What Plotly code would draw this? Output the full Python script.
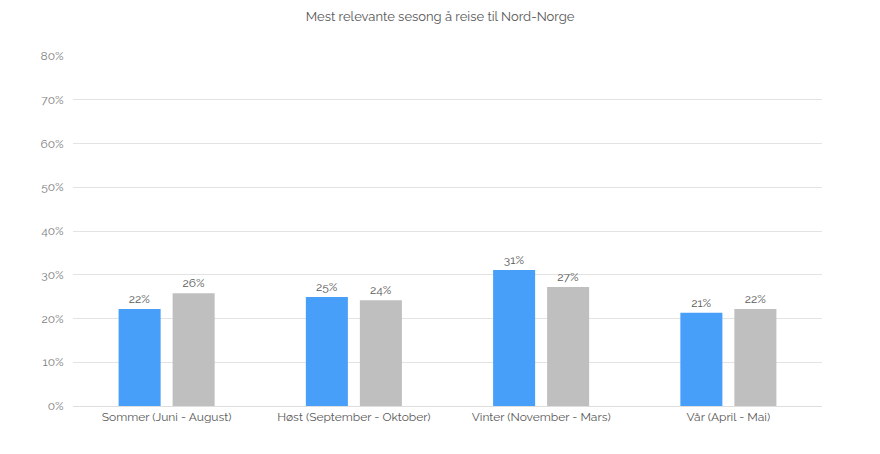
import plotly.graph_objects as go

categories = ["Sommer (Juni - August)", "Høst (September - Oktober)", "Vinter (November - Mars)", "Vår (April - Mai)"]
series_a = [22.2, 24.9, 31.1, 21.3]
series_b = [25.8, 24.2, 27.2, 22.2]
tick_vals = [0, 10, 20, 30, 40, 50, 60, 70, 80]
tick_text = ["0%", "10%", "20%", "30%", "40%", "50%", "60%", "70%", "80%"]

font_family = "Raleway, Lato, 'Open Sans', sans-serif"
text_color = "#666666"

fig = go.Figure()
fig.add_trace(go.Bar(x=categories, y=series_a, marker=dict(color="#479ffa", line=dict(width=0)),
                     text=[f"{v:.0f}%" for v in series_a], textposition="outside",
                     textfont=dict(color="#595959", size=12), cliponaxis=False, name="A"))
fig.add_trace(go.Bar(x=categories, y=series_b, marker=dict(color="#bfbfbf", line=dict(width=0)),
                     text=[f"{v:.0f}%" for v in series_b], textposition="outside",
                     textfont=dict(color="#595959", size=12), cliponaxis=False, name="B"))

# page body has an 8px margin, so the figure is shrunk by 8px
fig.update_layout(
    width=872, height=446,
    margin=dict(l=65, r=58, t=48, b=48),
    paper_bgcolor="white", plot_bgcolor="white",
    font=dict(family=font_family, color=text_color, size=12),
    title=dict(text="Mest relevante sesong å reise til Nord-Norge", x=0.4955, xanchor="center",
               y=0.982, yanchor="middle", font=dict(size=13, color="#595959")),
    showlegend=False,
    barmode="group", bargap=0.423, bargroupgap=0.222,
    xaxis=dict(showgrid=False, showline=True, linecolor="#dedede", linewidth=1,
               ticks="", tickfont=dict(size=12, color="#595959")),
    yaxis=dict(range=[0, 80], tickvals=tick_vals, ticktext=tick_text, showgrid=True,
               gridcolor="#e3e3e3", gridwidth=1, zeroline=False, ticks="outside",
               ticklen=6, tickcolor="rgba(0,0,0,0)", tickfont=dict(size=12, color="#808080"),
               showline=False),
)

fig.write_html("out.html")
